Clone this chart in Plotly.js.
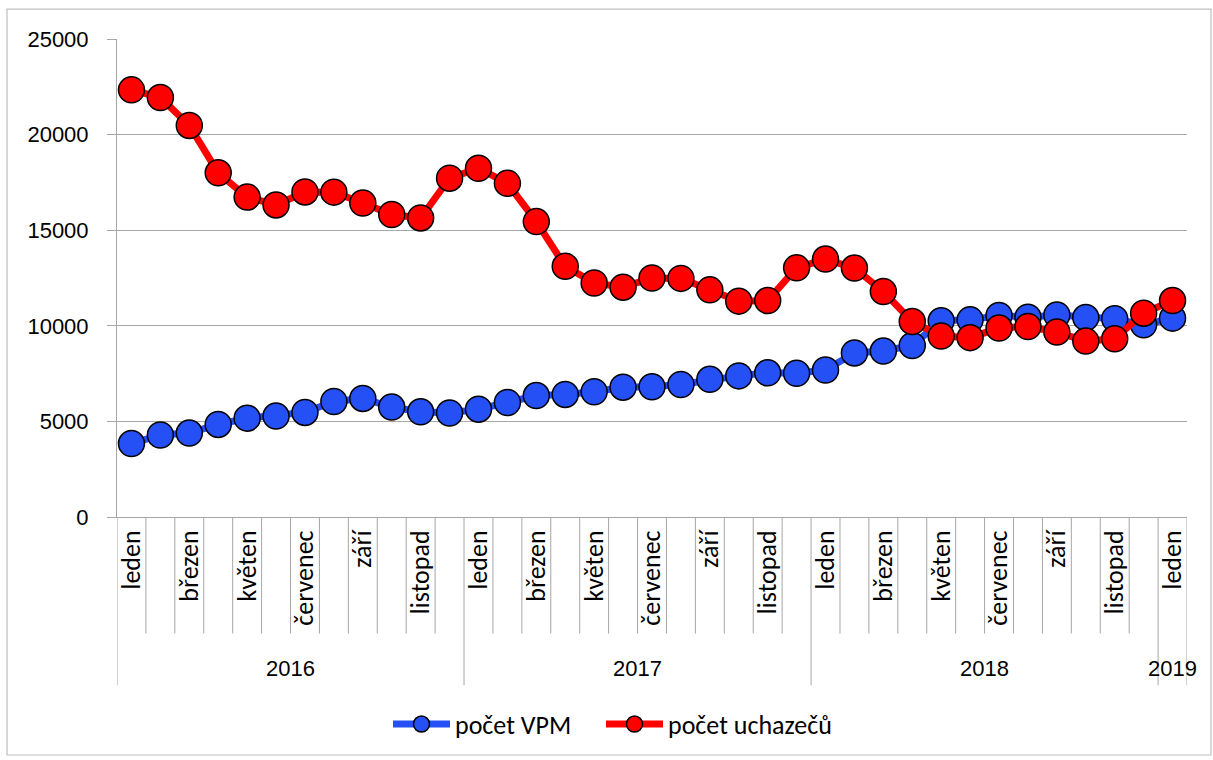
<!DOCTYPE html>
<html>
<head>
<meta charset="utf-8">
<script src="https://cdn.plot.ly/plotly-3.0.1.min.js"></script>
<style>
html,body{margin:0;padding:0;background:#fff;}
#chart{width:1213px;height:760px;}
</style>
</head>
<body>
<div id="chart"></div>
<script>
// ---- data ----
const monthNames = ['leden','únor','březen','duben','květen','červen','červenec','srpen','září','říjen','listopad','prosinec'];
const periodYears = [2016,2016,2016,2016,2016,2016,2016,2016,2016,2016,2016,2016,
                     2017,2017,2017,2017,2017,2017,2017,2017,2017,2017,2017,2017,
                     2018,2018,2018,2018,2018,2018,2018,2018,2018,2018,2018,2018,
                     2019];
const yearLabels = ['2016','2017','2018','2019'];
const pocetVPM = [3840,4290,4390,4840,5170,5280,5470,6040,6200,5750,5500,5440,
                  5640,5990,6350,6410,6550,6790,6810,6930,7200,7380,7540,7520,
                  7690,8580,8680,8970,10260,10310,10540,10450,10570,10430,10370,10050,
                  10400];
const pocetUchazecu = [22340,21940,20480,18000,16730,16320,17000,16990,16420,15820,15640,17720,
                       18240,17450,15450,13110,12240,12020,12500,12480,11880,11290,11320,13030,
                       13490,13020,11790,10220,9460,9380,9880,9960,9670,9200,9320,10660,
                       11320];

// ---- build categories ----
const cats = periodYears.map((y,i)=> y + ' ' + monthNames[i % 12]);
const tickText = cats.map((c,i)=> (i % 2 === 0) ? monthNames[i % 12] : '');

const FONT = 'Carlito, Lato, "Liberation Sans", sans-serif';
const NUMFONT = '"Liberation Sans", Arial, sans-serif';
const GRID = '#A6A6A6';

const traces = [
  {
    x: cats, y: pocetVPM, name: 'počet VPM', type: 'scatter', mode: 'lines+markers',
    line: {color: '#2450F5', width: 7},
    marker: {size: 26, color: '#2450F5', line: {color: '#000', width: 1.5}},
    legend: 'legend'
  },
  {
    x: cats, y: pocetUchazecu, name: 'počet uchazečů', type: 'scatter', mode: 'lines+markers',
    line: {color: '#FF0000', width: 7},
    marker: {size: 26, color: '#FF0000', line: {color: '#000', width: 1.5}},
    legend: 'legend2'
  }
];

// plot area geometry (px) used to express paper coordinates
const L = 117, R = 26, T = 39, B = 241, W = 1213, H = 760;
const pw = W - L - R, ph = H - T - B;
const py = p => (H - B - p) / ph;   // pixel y -> paper y
const px = p => (p - L) / pw;       // pixel x -> paper x

const shapes = [];
const n = cats.length;
const yearStart = periodYears.map((y,i)=> i === 0 || y !== periodYears[i-1]);
for (let i = 0; i <= n; i++) {
  const isYear = (i === n) || yearStart[i];
  shapes.push({
    type: 'line', xref: 'x', yref: 'paper',
    x0: i - 0.5, x1: i - 0.5, y0: 0, y1: isYear ? py(688) : py(636),
    line: {color: GRID, width: 1}
  });
}
// outer chart border
shapes.push({
  type: 'rect', xref: 'paper', yref: 'paper',
  x0: px(7), x1: px(1211), y0: py(758), y1: py(9),
  line: {color: '#BFBFBF', width: 1.2}, fillcolor: 'rgba(0,0,0,0)'
});

// year labels, centred on their month groups
const annotations = yearLabels.map(yl => {
  const idx = periodYears.map((y,i)=> String(y) === yl ? i : -1).filter(i=> i>=0);
  const mid = (idx[0] + idx[idx.length-1]) / 2;
  return {
    text: yl, xref: 'x', yref: 'paper', x: mid, y: py(671),
    showarrow: false, xanchor: 'center', yanchor: 'middle',
    font: {family: NUMFONT, size: 22, color: '#000'}
  };
});

const legendBase = {
  orientation: 'h', yanchor: 'middle', xanchor: 'left',
  font: {family: FONT, size: 26, color: '#000'}, itemwidth: 57,
  bgcolor: 'rgba(0,0,0,0)', borderwidth: 0
};

const layout = {
  width: W, height: H,
  margin: {l: L, r: R, t: T, b: B},
  paper_bgcolor: '#fff', plot_bgcolor: '#fff',
  font: {family: FONT, size: 24, color: '#000'},
  showlegend: true,
  legend: Object.assign({}, legendBase, {x: px(388), y: py(727)}),
  legend2: Object.assign({}, legendBase, {x: px(601), y: py(727)}),
  xaxis: {
    type: 'category', range: [-0.5, n - 0.5],
    tickmode: 'array', tickvals: cats, ticktext: tickText,
    tickangle: -90, ticks: '', showgrid: false,
    showline: true, linecolor: GRID, linewidth: 1,
    tickfont: {family: FONT, size: 26, color: '#000'},
    ticklabelstandoff: 2, zeroline: false, fixedrange: true
  },
  yaxis: {
    range: [0, 25000], tickmode: 'linear', tick0: 0, dtick: 5000,
    tickformat: 'd',
    showgrid: true, gridcolor: GRID, gridwidth: 1,
    showline: true, linecolor: GRID, linewidth: 1,
    ticks: 'outside', ticklen: 9, tickcolor: GRID, tickwidth: 1,
    tickfont: {family: NUMFONT, size: 22, color: '#000'},
    ticklabelstandoff: 14, zeroline: false, fixedrange: true
  },
  shapes: shapes,
  annotations: annotations
};

Plotly.newPlot('chart', traces, layout, {displayModeBar: false, staticPlot: true});
</script>
</body>
</html>
